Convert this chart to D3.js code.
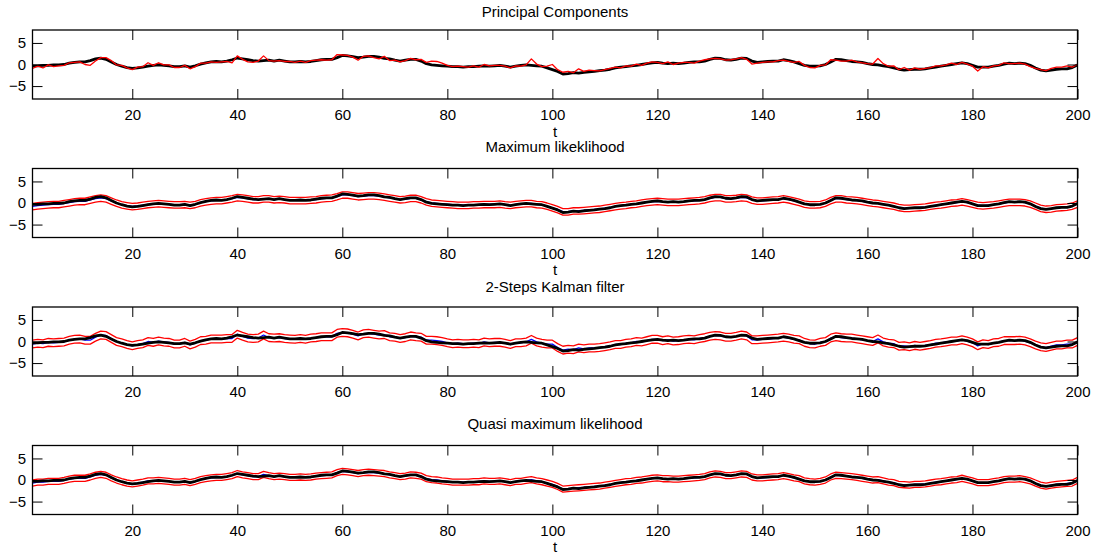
<!DOCTYPE html>
<html>
<head>
<meta charset="utf-8">
<script src="https://cdn.jsdelivr.net/npm/d3@7"></script>
<style>
	body { margin: 0; background: #fff; }
	svg { display: block; }
</style>
</head>
<body>
<script>
// time index and axis ticks
const t = d3.range(1, 201);
const xTicks = [20, 40, 60, 80, 100, 120, 140, 160, 180, 200];
const yTicks = [-5, 0, 5];
const titles = ['Principal Components', 'Maximum likeklihood', '2-Steps Kalman filter', 'Quasi maximum likelihood'];

// true factor (thick black line, same in every panel)
const factor = [
	-0.3,-0.3,-0.2,-0.2,-0.1,-0.1,0.0,0.3,0.5,0.6,
	0.6,0.9,1.3,1.5,1.2,0.6,0.0,-0.4,-0.7,-0.9,
	-0.8,-0.6,-0.4,-0.2,-0.1,-0.2,-0.3,-0.5,-0.5,-0.3,
	-0.6,-0.3,0.1,0.4,0.6,0.7,0.6,0.8,1.1,1.5,
	1.3,1.1,0.9,0.8,0.9,1.0,0.8,1.0,0.8,0.6,
	0.6,0.7,0.6,0.7,0.9,1.1,1.2,1.2,1.6,2.1,
	2.0,1.8,1.6,1.7,1.9,1.9,1.7,1.4,1.3,1.0,
	0.8,1.0,1.2,1.2,0.8,0.2,-0.1,-0.2,-0.3,-0.4,
	-0.5,-0.5,-0.6,-0.5,-0.5,-0.4,-0.3,-0.4,-0.3,-0.2,
	-0.4,-0.6,-0.4,-0.2,-0.1,-0.2,-0.3,-0.4,-0.8,-1.2,
	-1.6,-2.2,-2.1,-1.9,-2.0,-1.8,-1.7,-1.6,-1.4,-1.3,
	-1.1,-0.8,-0.6,-0.5,-0.3,-0.2,0.0,0.2,0.4,0.5,
	0.3,0.2,0.3,0.2,0.3,0.5,0.6,0.6,0.8,1.2,
	1.5,1.4,1.1,1.0,1.2,1.5,1.4,0.8,0.5,0.6,
	0.7,0.8,0.8,1.1,0.9,0.6,0.2,-0.2,-0.4,-0.4,
	-0.3,0.0,0.6,1.2,1.1,0.9,0.7,0.6,0.5,0.2,
	0.0,-0.1,-0.3,-0.5,-0.8,-1.1,-1.3,-1.2,-1.1,-1.1,
	-1.0,-0.8,-0.6,-0.4,-0.2,0.0,0.2,0.4,0.2,-0.2,
	-0.6,-0.6,-0.6,-0.4,-0.2,0.1,0.3,0.2,0.3,0.2,
	-0.2,-0.8,-1.3,-1.5,-1.3,-1.1,-1.0,-1.0,-0.7,-0.1
];

// principal components estimate (red, panel 1)
const pcEst = [
	-0.9,-0.4,-0.8,-0.1,-0.5,-0.3,-0.2,0.4,0.5,0.6,
	0.0,-0.2,0.8,1.6,1.6,0.9,-0.1,-0.2,-0.8,-1.2,
	-0.6,-0.5,0.4,-0.2,0.4,-0.1,-0.1,-0.7,-0.7,-0.2,
	-1.0,-0.5,0.3,0.3,0.6,0.5,0.6,0.7,0.4,2.0,
	1.2,0.6,0.5,0.8,2.0,0.9,0.8,0.9,0.7,0.7,
	0.5,0.8,0.5,0.9,1.0,1.1,1.0,1.1,2.3,2.2,
	2.1,1.7,1.0,1.9,2.0,1.6,1.3,1.9,0.9,1.0,
	0.6,0.9,1.4,1.1,1.2,0.5,0.8,0.7,0.3,-0.2,
	-0.5,-0.4,-0.5,-0.6,-0.3,-0.6,0.0,-0.3,-0.2,-0.2,
	-0.4,-0.8,-0.3,-0.4,-0.1,1.3,0.1,-0.5,-0.4,0.0,
	-1.2,-1.8,-1.6,-1.9,-1.0,-1.6,-1.3,-1.4,-1.5,-1.2,
	-0.9,-0.6,-0.8,-0.3,-0.4,0.1,-0.2,0.3,0.6,0.5,
	0.2,0.6,0.0,0.3,0.5,0.5,0.3,0.8,1.1,1.3,
	1.4,1.3,1.0,1.1,1.3,1.6,1.2,0.1,0.3,0.5,
	0.6,0.6,0.9,1.0,0.7,0.5,0.7,-0.2,-0.7,-0.8,
	-0.2,-0.1,1.1,1.0,0.8,0.8,1.0,0.6,0.4,0.2,
	0.1,1.4,0.2,-0.4,-0.3,-1.2,-0.7,-1.3,-0.8,-1.1,
	-0.9,-0.7,-0.3,-0.3,-0.1,0.3,0.0,0.5,0.1,-0.4,
	-1.5,-0.5,-0.8,-0.3,-0.2,0.4,0.2,0.2,0.3,0.1,
	-0.5,-0.9,-1.2,-1.4,-0.9,-0.6,-0.6,-0.3,-0.6,0.0
];

// maximum likelihood estimate and bands (panel 2)
const mlEst = [
	-0.8,-0.6,-0.5,-0.4,-0.3,-0.3,-0.1,0.1,0.3,0.4,
	0.4,0.7,1.0,1.2,1.0,0.5,0.0,-0.4,-0.6,-0.8,
	-0.7,-0.5,-0.3,-0.2,-0.1,-0.2,-0.3,-0.4,-0.4,-0.3,
	-0.5,-0.3,0.1,0.3,0.5,0.6,0.6,0.8,1.0,1.3,
	1.2,1.0,0.8,0.8,1.0,1.0,0.8,0.9,0.8,0.6,
	0.6,0.6,0.6,0.7,0.8,1.0,1.1,1.2,1.5,1.9,
	1.9,1.7,1.5,1.6,1.7,1.7,1.6,1.4,1.2,1.0,
	0.8,0.9,1.1,1.1,0.8,0.3,0.0,-0.1,-0.2,-0.3,
	-0.4,-0.5,-0.5,-0.5,-0.4,-0.4,-0.3,-0.3,-0.3,-0.2,
	-0.4,-0.5,-0.3,-0.2,-0.1,-0.1,-0.3,-0.4,-0.7,-1.1,
	-1.5,-2.0,-2.0,-1.8,-1.8,-1.7,-1.6,-1.5,-1.4,-1.2,
	-1.0,-0.8,-0.6,-0.5,-0.3,-0.2,0.0,0.2,0.3,0.4,
	0.3,0.2,0.2,0.2,0.3,0.4,0.5,0.6,0.8,1.1,
	1.3,1.3,1.0,1.0,1.1,1.3,1.2,0.7,0.5,0.5,
	0.6,0.7,0.8,1.0,0.8,0.5,0.2,-0.2,-0.4,-0.4,
	-0.3,0.0,0.6,1.0,1.0,0.8,0.7,0.6,0.4,0.2,
	0.0,-0.1,-0.3,-0.5,-0.7,-1.0,-1.2,-1.2,-1.1,-1.0,
	-0.9,-0.7,-0.5,-0.4,-0.2,0.0,0.1,0.3,0.1,-0.2,
	-0.5,-0.6,-0.5,-0.4,-0.2,0.0,0.2,0.2,0.2,0.1,
	-0.2,-0.7,-1.2,-1.4,-1.3,-1.1,-1.0,-0.9,-0.7,-0.2
];
const mlUpper = [
	-0.1,0.1,0.2,0.3,0.4,0.4,0.6,0.8,1.0,1.1,
	1.1,1.4,1.7,1.9,1.7,1.2,0.7,0.3,0.1,-0.1,
	0.0,0.2,0.4,0.5,0.6,0.5,0.4,0.3,0.3,0.4,
	0.2,0.4,0.8,1.0,1.2,1.3,1.3,1.5,1.7,2.0,
	1.9,1.7,1.5,1.5,1.7,1.7,1.5,1.6,1.5,1.3,
	1.3,1.3,1.3,1.4,1.5,1.7,1.8,1.9,2.2,2.6,
	2.6,2.4,2.2,2.3,2.4,2.4,2.3,2.1,1.9,1.7,
	1.5,1.6,1.8,1.8,1.5,1.0,0.7,0.6,0.5,0.4,
	0.3,0.2,0.2,0.2,0.3,0.3,0.4,0.4,0.4,0.5,
	0.3,0.2,0.4,0.5,0.6,0.6,0.4,0.3,0.0,-0.4,
	-0.8,-1.3,-1.3,-1.1,-1.1,-1.0,-0.9,-0.8,-0.7,-0.5,
	-0.3,-0.1,0.1,0.2,0.4,0.5,0.7,0.9,1.0,1.1,
	1.0,0.9,0.9,0.9,1.0,1.1,1.2,1.3,1.5,1.8,
	2.0,2.0,1.7,1.7,1.8,2.0,1.9,1.4,1.2,1.2,
	1.3,1.4,1.5,1.7,1.5,1.2,0.9,0.5,0.3,0.3,
	0.4,0.7,1.3,1.7,1.7,1.5,1.4,1.3,1.1,0.9,
	0.7,0.6,0.4,0.2,0.0,-0.3,-0.5,-0.5,-0.4,-0.3,
	-0.2,0.0,0.2,0.3,0.5,0.7,0.8,1.0,0.8,0.5,
	0.2,0.1,0.2,0.3,0.5,0.7,0.9,0.9,0.9,0.8,
	0.5,0.0,-0.5,-0.7,-0.6,-0.4,-0.3,-0.2,0.0,0.5
];
const mlLower = [
	-1.6,-1.4,-1.3,-1.2,-1.1,-1.1,-0.9,-0.7,-0.5,-0.4,
	-0.4,-0.1,0.2,0.4,0.2,-0.3,-0.8,-1.2,-1.4,-1.6,
	-1.5,-1.3,-1.1,-1.0,-0.9,-1.0,-1.1,-1.2,-1.2,-1.1,
	-1.3,-1.1,-0.7,-0.5,-0.3,-0.2,-0.2,0.0,0.2,0.5,
	0.4,0.2,0.0,0.0,0.2,0.2,0.0,0.1,0.0,-0.2,
	-0.2,-0.2,-0.2,-0.1,0.0,0.2,0.3,0.4,0.7,1.1,
	1.1,0.9,0.7,0.8,0.9,0.9,0.8,0.6,0.4,0.2,
	0.0,0.1,0.3,0.3,0.0,-0.5,-0.8,-0.9,-1.0,-1.1,
	-1.2,-1.3,-1.3,-1.3,-1.2,-1.2,-1.1,-1.1,-1.1,-1.0,
	-1.2,-1.3,-1.1,-1.0,-0.9,-0.9,-1.1,-1.2,-1.5,-1.9,
	-2.3,-2.8,-2.8,-2.6,-2.6,-2.5,-2.4,-2.3,-2.2,-2.0,
	-1.8,-1.6,-1.4,-1.3,-1.1,-1.0,-0.8,-0.6,-0.5,-0.4,
	-0.5,-0.6,-0.6,-0.6,-0.5,-0.4,-0.3,-0.2,0.0,0.3,
	0.5,0.5,0.2,0.2,0.3,0.5,0.4,-0.1,-0.3,-0.3,
	-0.2,-0.1,0.0,0.2,0.0,-0.3,-0.6,-1.0,-1.2,-1.2,
	-1.1,-0.8,-0.2,0.2,0.2,0.0,-0.1,-0.2,-0.4,-0.6,
	-0.8,-0.9,-1.1,-1.3,-1.5,-1.8,-2.0,-2.0,-1.9,-1.8,
	-1.7,-1.5,-1.3,-1.2,-1.0,-0.8,-0.7,-0.5,-0.7,-1.0,
	-1.3,-1.4,-1.3,-1.2,-1.0,-0.8,-0.6,-0.6,-0.6,-0.7,
	-1.0,-1.5,-2.0,-2.2,-2.1,-1.9,-1.8,-1.7,-1.5,-1.0
];

// 2-step Kalman filter estimate and bands (panel 3)
const kfEst = [
	-0.6,-0.4,-0.5,-0.2,-0.3,-0.2,-0.1,0.3,0.5,0.6,
	0.3,0.3,1.0,1.5,1.4,0.7,0.0,-0.3,-0.7,-1.0,
	-0.7,-0.5,0.0,-0.2,0.1,-0.1,-0.2,-0.6,-0.6,-0.2,
	-0.8,-0.4,0.2,0.3,0.6,0.6,0.6,0.7,0.7,1.7,
	1.2,0.8,0.7,0.8,1.5,0.9,0.8,0.9,0.7,0.6,
	0.5,0.7,0.5,0.8,0.9,1.1,1.1,1.1,1.9,2.1,
	2.0,1.7,1.3,1.8,1.9,1.7,1.5,1.6,1.1,1.0,
	0.7,0.9,1.3,1.1,1.0,0.3,0.3,0.2,0.0,-0.3,
	-0.5,-0.4,-0.5,-0.5,-0.4,-0.5,-0.1,-0.3,-0.2,-0.2,
	-0.4,-0.7,-0.3,-0.3,-0.1,0.5,-0.1,-0.4,-0.6,-0.6,
	-1.4,-2.0,-1.8,-1.9,-1.5,-1.7,-1.5,-1.5,-1.4,-1.2,
	-1.0,-0.7,-0.7,-0.4,-0.3,0.0,-0.1,0.2,0.5,0.5,
	0.2,0.4,0.1,0.2,0.4,0.5,0.4,0.7,0.9,1.2,
	1.4,1.3,1.0,1.0,1.2,1.5,1.3,0.4,0.4,0.5,
	0.6,0.7,0.8,1.0,0.8,0.5,0.4,-0.2,-0.5,-0.6,
	-0.2,0.0,0.8,1.1,0.9,0.8,0.8,0.6,0.4,0.2,
	0.0,0.6,-0.1,-0.4,-0.5,-1.1,-1.0,-1.2,-0.9,-1.1,
	-0.9,-0.7,-0.4,-0.3,-0.1,0.1,0.1,0.4,0.1,-0.3,
	-1.0,-0.5,-0.7,-0.3,-0.2,0.2,0.2,0.2,0.3,0.1,
	-0.3,-0.8,-1.2,-1.4,-1.1,-0.8,-0.8,-0.6,-0.6,0.0
];
const kfUpper = [
	0.3,0.5,0.4,0.7,0.6,0.7,0.8,1.2,1.4,1.5,
	1.2,1.2,1.9,2.4,2.3,1.6,0.9,0.6,0.2,-0.1,
	0.2,0.4,0.9,0.7,1.0,0.8,0.7,0.3,0.3,0.7,
	0.1,0.5,1.1,1.2,1.5,1.5,1.5,1.6,1.6,2.6,
	2.1,1.7,1.6,1.7,2.4,1.8,1.7,1.8,1.6,1.5,
	1.4,1.6,1.4,1.7,1.8,2.0,2.0,2.0,2.8,3.0,
	2.9,2.6,2.2,2.7,2.8,2.6,2.4,2.5,2.0,1.9,
	1.6,1.8,2.2,2.0,1.9,1.2,1.2,1.1,0.9,0.6,
	0.4,0.5,0.4,0.4,0.5,0.4,0.8,0.6,0.7,0.7,
	0.5,0.2,0.6,0.6,0.8,1.4,0.8,0.5,0.3,0.3,
	-0.5,-1.1,-0.9,-1.0,-0.6,-0.8,-0.6,-0.6,-0.5,-0.3,
	-0.1,0.2,0.2,0.5,0.6,0.9,0.8,1.1,1.4,1.4,
	1.1,1.3,1.0,1.1,1.3,1.4,1.3,1.6,1.8,2.1,
	2.3,2.2,1.9,1.9,2.1,2.4,2.2,1.3,1.3,1.4,
	1.5,1.6,1.7,1.9,1.7,1.4,1.3,0.7,0.4,0.3,
	0.7,0.9,1.7,2.0,1.8,1.7,1.7,1.5,1.3,1.1,
	0.9,1.5,0.8,0.5,0.4,-0.2,-0.1,-0.3,0.0,-0.2,
	0.0,0.2,0.5,0.6,0.8,1.0,1.0,1.3,1.0,0.6,
	-0.1,0.4,0.2,0.6,0.7,1.1,1.1,1.1,1.2,1.0,
	0.6,0.1,-0.3,-0.5,-0.2,0.1,0.1,0.3,0.3,0.9
];
const kfLower = [
	-1.5,-1.3,-1.4,-1.1,-1.2,-1.1,-1.0,-0.6,-0.4,-0.3,
	-0.6,-0.6,0.1,0.6,0.5,-0.2,-0.9,-1.2,-1.6,-1.9,
	-1.6,-1.4,-0.9,-1.1,-0.8,-1.0,-1.1,-1.5,-1.5,-1.1,
	-1.7,-1.3,-0.7,-0.6,-0.3,-0.3,-0.3,-0.2,-0.2,0.8,
	0.3,-0.1,-0.2,-0.1,0.6,0.0,-0.1,0.0,-0.2,-0.3,
	-0.4,-0.2,-0.4,-0.1,0.0,0.2,0.2,0.2,1.0,1.2,
	1.1,0.8,0.4,0.9,1.0,0.8,0.6,0.7,0.2,0.1,
	-0.2,0.0,0.4,0.2,0.1,-0.6,-0.6,-0.7,-0.9,-1.2,
	-1.4,-1.3,-1.4,-1.4,-1.3,-1.4,-1.0,-1.2,-1.1,-1.1,
	-1.3,-1.6,-1.2,-1.2,-1.0,-0.4,-1.0,-1.3,-1.5,-1.5,
	-2.3,-2.9,-2.7,-2.8,-2.4,-2.6,-2.4,-2.4,-2.3,-2.1,
	-1.9,-1.6,-1.6,-1.3,-1.2,-0.9,-1.0,-0.7,-0.4,-0.4,
	-0.7,-0.5,-0.8,-0.7,-0.5,-0.4,-0.5,-0.2,0.0,0.3,
	0.5,0.4,0.1,0.1,0.3,0.6,0.4,-0.5,-0.5,-0.4,
	-0.3,-0.2,-0.1,0.1,-0.1,-0.4,-0.5,-1.1,-1.4,-1.5,
	-1.1,-0.9,-0.1,0.2,0.0,-0.1,-0.1,-0.3,-0.5,-0.7,
	-0.9,-0.3,-1.0,-1.3,-1.4,-2.0,-1.9,-2.1,-1.8,-2.0,
	-1.8,-1.6,-1.3,-1.2,-1.0,-0.8,-0.8,-0.5,-0.8,-1.2,
	-1.9,-1.4,-1.6,-1.2,-1.1,-0.7,-0.7,-0.7,-0.6,-0.8,
	-1.2,-1.7,-2.1,-2.3,-2.0,-1.7,-1.7,-1.5,-1.5,-0.9
];

// quasi maximum likelihood estimate and bands (panel 4)
const qmlEst = [
	-0.7,-0.5,-0.5,-0.3,-0.3,-0.3,-0.1,0.2,0.4,0.4,
	0.4,0.7,1.1,1.3,1.1,0.5,0.0,-0.4,-0.7,-0.9,
	-0.7,-0.5,-0.2,-0.2,-0.1,-0.2,-0.3,-0.5,-0.5,-0.3,
	-0.6,-0.3,0.1,0.3,0.5,0.6,0.6,0.8,1.0,1.5,
	1.2,1.0,0.8,0.8,1.3,1.0,0.8,0.9,0.8,0.6,
	0.6,0.7,0.6,0.7,0.9,1.0,1.1,1.2,1.7,2.0,
	1.9,1.7,1.5,1.7,1.8,1.7,1.6,1.5,1.2,1.0,
	0.8,0.9,1.2,1.1,0.9,0.3,0.1,0.0,-0.2,-0.3,
	-0.5,-0.5,-0.5,-0.5,-0.4,-0.4,-0.2,-0.3,-0.3,-0.2,
	-0.4,-0.6,-0.3,-0.3,-0.1,0.1,-0.2,-0.4,-0.7,-1.0,
	-1.5,-2.1,-2.0,-1.9,-1.8,-1.7,-1.6,-1.5,-1.4,-1.2,
	-1.0,-0.8,-0.6,-0.4,-0.3,-0.1,0.0,0.2,0.4,0.5,
	0.3,0.3,0.2,0.2,0.3,0.4,0.5,0.6,0.8,1.2,
	1.4,1.3,1.0,1.0,1.2,1.4,1.3,0.7,0.5,0.5,
	0.6,0.7,0.8,1.0,0.8,0.5,0.3,-0.2,-0.4,-0.5,
	-0.3,0.0,0.7,1.1,1.0,0.9,0.8,0.6,0.4,0.2,
	0.0,0.1,-0.2,-0.5,-0.6,-1.0,-1.1,-1.2,-1.0,-1.0,
	-0.9,-0.7,-0.5,-0.4,-0.2,0.0,0.1,0.4,0.1,-0.2,
	-0.6,-0.6,-0.6,-0.4,-0.2,0.1,0.2,0.2,0.3,0.1,
	-0.2,-0.7,-1.2,-1.4,-1.2,-1.0,-0.9,-0.8,-0.7,-0.1
];
const qmlUpper = [
	0.0,0.2,0.2,0.4,0.4,0.4,0.6,0.9,1.1,1.1,
	1.1,1.4,1.8,2.0,1.8,1.2,0.7,0.3,0.0,-0.2,
	0.0,0.2,0.5,0.5,0.6,0.5,0.4,0.2,0.2,0.4,
	0.1,0.4,0.8,1.0,1.2,1.3,1.3,1.5,1.7,2.2,
	1.9,1.7,1.5,1.5,2.0,1.7,1.5,1.6,1.5,1.3,
	1.3,1.4,1.3,1.4,1.6,1.7,1.8,1.9,2.4,2.7,
	2.6,2.4,2.2,2.4,2.5,2.4,2.3,2.2,1.9,1.7,
	1.5,1.6,1.9,1.8,1.6,1.0,0.8,0.7,0.5,0.4,
	0.2,0.2,0.2,0.2,0.3,0.3,0.5,0.4,0.4,0.5,
	0.3,0.1,0.4,0.4,0.6,0.8,0.5,0.3,0.0,-0.3,
	-0.8,-1.4,-1.3,-1.2,-1.1,-1.0,-0.9,-0.8,-0.7,-0.5,
	-0.3,-0.1,0.1,0.3,0.4,0.6,0.7,0.9,1.1,1.2,
	1.0,1.0,0.9,0.9,1.0,1.1,1.2,1.3,1.5,1.9,
	2.1,2.0,1.7,1.7,1.9,2.1,2.0,1.4,1.2,1.2,
	1.3,1.4,1.5,1.7,1.5,1.2,1.0,0.5,0.3,0.2,
	0.4,0.7,1.4,1.8,1.7,1.6,1.5,1.3,1.1,0.9,
	0.7,0.8,0.5,0.2,0.1,-0.3,-0.4,-0.5,-0.3,-0.3,
	-0.2,0.0,0.2,0.3,0.5,0.7,0.8,1.1,0.8,0.5,
	0.1,0.1,0.1,0.3,0.5,0.8,0.9,0.9,1.0,0.8,
	0.5,0.0,-0.5,-0.7,-0.5,-0.3,-0.2,-0.1,0.0,0.6
];
const qmlLower = [
	-1.4,-1.2,-1.2,-1.0,-1.0,-1.0,-0.8,-0.5,-0.3,-0.3,
	-0.3,0.0,0.4,0.6,0.4,-0.2,-0.7,-1.1,-1.4,-1.6,
	-1.4,-1.2,-0.9,-0.9,-0.8,-0.9,-1.0,-1.2,-1.2,-1.0,
	-1.3,-1.0,-0.6,-0.4,-0.2,-0.1,-0.1,0.1,0.3,0.8,
	0.5,0.3,0.1,0.1,0.6,0.3,0.1,0.2,0.1,-0.1,
	-0.1,0.0,-0.1,0.0,0.2,0.3,0.4,0.5,1.0,1.3,
	1.2,1.0,0.8,1.0,1.1,1.0,0.9,0.8,0.5,0.3,
	0.1,0.2,0.5,0.4,0.2,-0.4,-0.6,-0.7,-0.9,-1.0,
	-1.2,-1.2,-1.2,-1.2,-1.1,-1.1,-0.9,-1.0,-1.0,-0.9,
	-1.1,-1.3,-1.0,-1.0,-0.8,-0.6,-0.9,-1.1,-1.4,-1.7,
	-2.2,-2.8,-2.7,-2.6,-2.5,-2.4,-2.3,-2.2,-2.1,-1.9,
	-1.7,-1.5,-1.3,-1.1,-1.0,-0.8,-0.7,-0.5,-0.3,-0.2,
	-0.4,-0.4,-0.5,-0.5,-0.4,-0.3,-0.2,-0.1,0.1,0.5,
	0.7,0.6,0.3,0.3,0.5,0.7,0.6,0.0,-0.2,-0.2,
	-0.1,0.0,0.1,0.3,0.1,-0.2,-0.4,-0.9,-1.1,-1.2,
	-1.0,-0.7,0.0,0.4,0.3,0.2,0.1,-0.1,-0.3,-0.5,
	-0.7,-0.6,-0.9,-1.2,-1.3,-1.7,-1.8,-1.9,-1.7,-1.7,
	-1.6,-1.4,-1.2,-1.1,-0.9,-0.7,-0.6,-0.3,-0.6,-0.9,
	-1.3,-1.3,-1.3,-1.1,-0.9,-0.6,-0.5,-0.5,-0.4,-0.6,
	-0.9,-1.4,-1.9,-2.1,-1.9,-1.7,-1.6,-1.5,-1.4,-0.8
];

const width = 1107;
const height = 558;
const font = 'Liberation Sans, Arial, Helvetica, sans-serif';
const left = 32.5, right = 1077.5, ph = 69;
const tops = [30, 168.5, 307, 445.5];
const titleY = [17, 152, 292, 429];
const showT = [true, true, false, true];

// what goes in each panel, in drawing order
const panels = [
	[{v: factor, c: '#000', w: 2.8}, {v: pcEst, c: '#ff0000', w: 1.3}],
	[{v: mlEst, c: '#0000ff', w: 1.3}, {v: mlUpper, c: '#ff0000', w: 1.3}, {v: mlLower, c: '#ff0000', w: 1.3}, {v: factor, c: '#000', w: 2.8}],
	[{v: kfEst, c: '#0000ff', w: 1.3}, {v: kfUpper, c: '#ff0000', w: 1.3}, {v: kfLower, c: '#ff0000', w: 1.3}, {v: factor, c: '#000', w: 2.8}],
	[{v: qmlEst, c: '#0000ff', w: 1.3}, {v: qmlUpper, c: '#ff0000', w: 1.3}, {v: qmlLower, c: '#ff0000', w: 1.3}, {v: factor, c: '#000', w: 2.8}]
];

const svg = d3.select('body').append('svg')
	.attr('width', width)
	.attr('height', height)
	.style('font-family', font);

svg.append('rect').attr('width', width).attr('height', height).attr('fill', '#fff');

const x = d3.scaleLinear().domain([1, 200]).range([left, right]);

panels.forEach((series, i) => {
	const top = tops[i], bottom = top + ph;
	const y = d3.scaleLinear().domain([-8, 8]).range([bottom, top]);
	const g = svg.append('g');

	const line = d3.line()
		.x((d, j) => x(t[j]))
		.y(d => y(d));

	series.forEach(s => {
		g.append('path')
			.datum(s.v)
			.attr('d', line)
			.attr('fill', 'none')
			.attr('stroke', s.c)
			.attr('stroke-width', s.w)
			.attr('stroke-linejoin', 'round');
	});

	// inward ticks on all four sides
	const axB = g.append('g').attr('transform', `translate(0,${bottom})`)
		.call(d3.axisBottom(x).tickValues(xTicks).tickSize(-10).tickPadding(10.5));
	g.append('g').attr('transform', `translate(0,${top})`)
		.call(d3.axisTop(x).tickValues(xTicks).tickSize(-10).tickFormat(''));
	const axL = g.append('g').attr('transform', `translate(${left},0)`)
		.call(d3.axisLeft(y).tickValues(yTicks).tickSize(-10).tickPadding(6.5));
	g.append('g').attr('transform', `translate(${right},0)`)
		.call(d3.axisRight(y).tickValues(yTicks).tickSize(-10).tickFormat(''));

	g.selectAll('.domain').remove();
	g.selectAll('.tick line').attr('stroke', '#000').attr('stroke-width', 1);
	[axB, axL].forEach(a => a.selectAll('text')
		.attr('font-size', 15)
		.attr('font-family', font)
		.attr('fill', '#000'));

	g.append('rect')
		.attr('x', left).attr('y', top)
		.attr('width', right - left).attr('height', ph)
		.attr('fill', 'none')
		.attr('stroke', '#000')
		.attr('stroke-width', 1.3);

	g.append('text')
		.attr('x', (left + right) / 2)
		.attr('y', titleY[i])
		.attr('text-anchor', 'middle')
		.attr('font-size', 15)
		.text(titles[i]);

	if (showT[i]) {
		g.append('text')
			.attr('x', (left + right) / 2)
			.attr('y', bottom + 37.5)
			.attr('text-anchor', 'middle')
			.attr('font-size', 15)
			.text('t');
	}
});
</script>
</body>
</html>
